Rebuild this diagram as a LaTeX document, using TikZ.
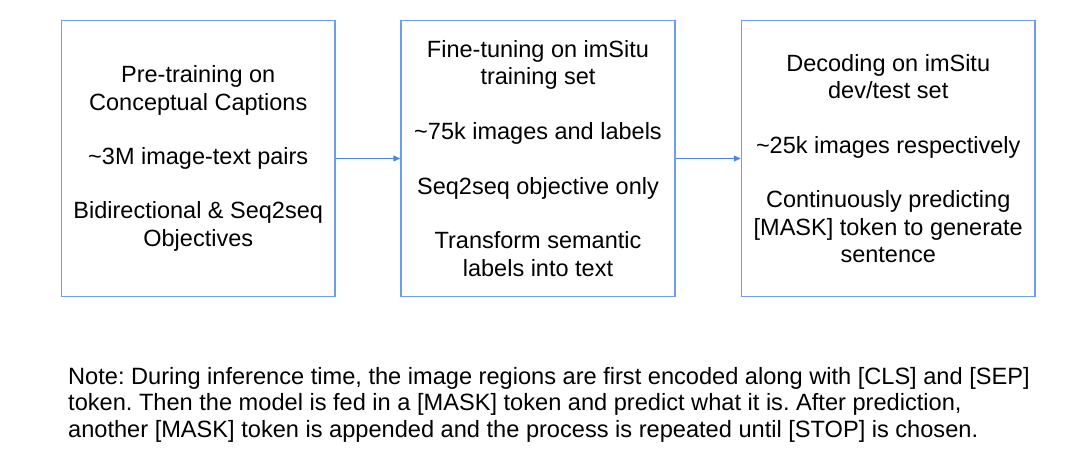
\documentclass[tikz,border=0pt]{standalone}
\usepackage{fontspec}
\setmainfont{Liberation Sans}
\usetikzlibrary{arrows.meta}
\definecolor{boxblue}{RGB}{109,158,235}
\definecolor{arrowblue}{RGB}{74,134,232}
\begin{document}
\frenchspacing
\begin{tikzpicture}[x=1pt,y=1pt,
  stagebox/.style={draw=boxblue, line width=1.5pt, align=center, inner sep=0pt,
    font=\fontsize{23.5}{27.2}\selectfont},
  flow/.style={draw=arrowblue, line width=1.2pt, -{Triangle[length=7pt,width=6pt]}},
  notetext/.style={anchor=base west, inner sep=0pt, font=\fontsize{23.6}{26.5}\selectfont}]
\fill[white] (0,0) rectangle (1069,452);
\useasboundingbox (0,0) rectangle (1069,452);
\node[stagebox, minimum width=273.5pt, minimum height=276pt] (pre) at (198.25,293.5)
  {Pre-training on\\Conceptual Captions\\[27.2pt]\textasciitilde 3M image-text pairs\\[27.2pt]Bidirectional \& Seq2seq\\Objectives};
\node[stagebox, minimum width=274pt, minimum height=276pt] (fine) at (538,293.5)
  {Fine-tuning on imSitu\\training set\\[27.5pt]\textasciitilde 75k images and labels\\[27.5pt]Seq2seq objective only\\[27.5pt]Transform semantic\\labels into text};
\node[stagebox, minimum width=293.5pt, minimum height=276pt] (dec) at (888.25,293.5)
  {Decoding on imSitu\\dev/test set\\[27.5pt]\textasciitilde 25k images respectively\\[27.5pt]Continuously predicting\\{[MASK]} token to generate\\sentence};
\draw[flow] (pre.east) -- (fine.west);
\draw[flow] (fine.east) -- (dec.west);
\node[notetext] (note1) at (68,67.5) {Note: During inference time, the image regions are first encoded along with [CLS] and [SEP]};
\node[notetext] (note2) at (68,41) {token. Then the model is fed in a [MASK] token and predict what it is. After prediction,};
\node[notetext] (note3) at (68,14.5) {another [MASK] token is appended and the process is repeated until [STOP] is chosen.};
\end{tikzpicture}
\end{document}
